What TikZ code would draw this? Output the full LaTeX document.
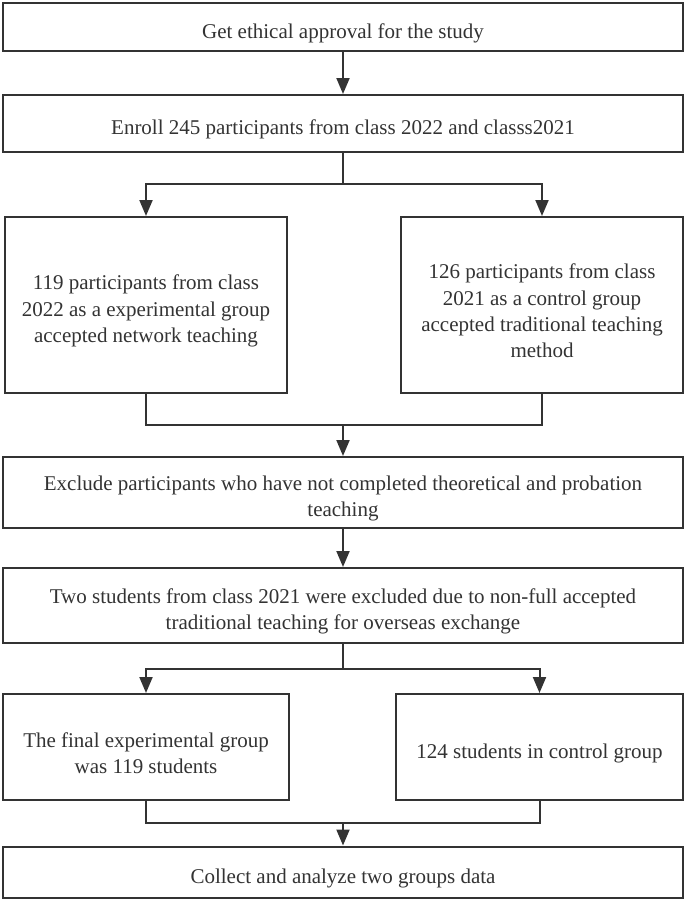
\documentclass[tikz,border=0pt]{standalone}
\usepackage{fontspec}
\setmainfont{Liberation Serif}
\usetikzlibrary{arrows.meta}
\newlength{\du}
\setlength{\du}{1pt}
\definecolor{dialinecolor}{rgb}{0.200000, 0.200000, 0.200000}
\tikzset{
  stagebox/.style={draw=dialinecolor, line width=2\du, fill=white, inner sep=0pt},
  stagetext/.style={text=dialinecolor, align=center, inner sep=0pt, yshift=-6pt,
    font=\fontsize{21}{26.3}\selectfont},
  flowline/.style={draw=dialinecolor, line width=2\du},
  flowarrow/.style={flowline, -{Triangle[length=16pt,width=13pt]}},
}

\begin{document}
\begin{tikzpicture}
\pgftransformxscale{1.000000}
\pgftransformyscale{-1.000000}
\useasboundingbox (0\du,0\du) rectangle (685\du,899\du);
% full width boxes
\node[stagebox, minimum width=680\du, minimum height=48\du, label={[stagetext]center:Get ethical approval for the study}] (approval) at (343.000000\du,27.000000\du){};
\node[stagebox, minimum width=680\du, minimum height=57\du, label={[stagetext]center:Enroll 245 participants from class 2022 and classs2021}] (enroll) at (343.000000\du,123.500000\du){};
\node[stagebox, minimum width=680\du, minimum height=71\du, label={[stagetext]center:Exclude participants who have not completed theoretical and probation\\teaching}] (exclude) at (343.000000\du,492.500000\du){};
\node[stagebox, minimum width=680\du, minimum height=75\du, label={[stagetext]center:Two students from class 2021 were excluded due to non-full accepted\\traditional teaching for overseas exchange}] (excluded) at (343.000000\du,605.500000\du){};
\node[stagebox, minimum width=680\du, minimum height=51\du, label={[stagetext]center:Collect and analyze two groups data}] (analyze) at (343.000000\du,872.000000\du){};
% group boxes
\node[stagebox, minimum width=282\du, minimum height=176\du, label={[stagetext]center:119 participants from class\\2022 as a experimental group\\accepted network teaching}] (expgrp) at (146.000000\du,305.000000\du){};
\node[stagebox, minimum width=282\du, minimum height=176\du, label={[stagetext]center:126 participants from class\\2021 as a control group\\accepted traditional teaching\\method}] (ctrlgrp) at (542.000000\du,305.000000\du){};
\node[stagebox, minimum width=286\du, minimum height=106\du, label={[stagetext]center:The final experimental group\\was 119 students}] (expfinal) at (146.000000\du,747.000000\du){};
\node[stagebox, minimum width=287\du, minimum height=106\du, label={[stagetext]center:124 students in control group}] (ctrlfinal) at (539.500000\du,747.000000\du){};
% branch points
\coordinate (split1) at (343.000000\du,184.000000\du);
\coordinate (merge1) at (343.000000\du,425.000000\du);
\coordinate (split2) at (343.000000\du,669.000000\du);
\coordinate (merge2) at (343.000000\du,823.000000\du);
% connectors
\draw[flowarrow] (approval) -- (enroll);
\draw[flowline] (enroll) -- (split1);
\draw[flowarrow] (split1) -| (expgrp.north);
\draw[flowarrow] (split1) -| (ctrlgrp.north);
\draw[flowline] (expgrp.south) |- (merge1) -| (ctrlgrp.south);
\draw[flowarrow] (merge1) -- (exclude);
\draw[flowarrow] (exclude) -- (excluded);
\draw[flowline] (excluded) -- (split2);
\draw[flowarrow] (split2) -| (expfinal.north);
\draw[flowarrow] (split2) -| (ctrlfinal.north);
\draw[flowline] (expfinal.south) |- (merge2) -| (ctrlfinal.south);
\draw[flowarrow] (merge2) -- (analyze);
\end{tikzpicture}
\end{document}
